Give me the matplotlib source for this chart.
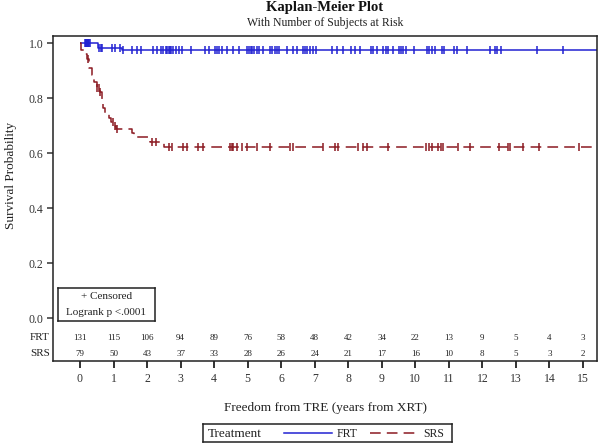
import numpy as np
import matplotlib
matplotlib.use("Agg")
import matplotlib.pyplot as plt
from matplotlib.lines import Line2D

plt.rcParams['font.family'] = ['Liberation Serif', 'DejaVu Serif']

# ---------------- data ----------------
frt_step_t = [0.0, 0.55, 1.24]
frt_step_s = [1.0, 0.984, 0.976]
frt_censor = [0.15, 0.17, 0.19, 0.21, 0.23, 0.25, 0.27, 0.29, 0.58, 0.62, 0.66,
              0.94, 1.04, 1.19, 1.29, 1.54, 1.69, 1.81, 2.19, 2.31, 2.43, 2.49,
              2.57, 2.61, 2.65, 2.69, 2.72, 2.76, 2.86, 2.95, 3.05, 3.30, 3.73,
              3.85, 4.03, 4.10, 4.16, 4.23, 4.37, 4.57, 4.75, 4.99, 5.04, 5.09,
              5.14, 5.19, 5.27, 5.35, 5.47, 5.67, 5.74, 5.81, 5.88, 5.95, 6.16,
              6.34, 6.48, 6.64, 6.71, 6.78, 6.86, 6.94, 7.04, 7.51, 7.67, 7.85,
              8.07, 8.20, 8.35, 8.67, 8.75, 8.85, 9.05, 9.13, 9.20, 9.34, 9.51,
              9.57, 9.62, 9.72, 9.96, 10.34, 10.42, 10.49, 10.59, 10.79, 10.86,
              11.15, 11.23, 11.53, 12.23, 12.38, 12.45, 12.55, 13.62, 14.41]

srs_step_t = [0.0, 0.04, 0.12, 0.2, 0.28, 0.36, 0.43, 0.5, 0.6, 0.65, 0.7,
              0.76, 0.86, 0.92, 1.0, 1.06, 1.55, 1.62, 2.08, 2.5]
srs_step_s = [1.0, 0.975, 0.96, 0.942, 0.91, 0.885, 0.86, 0.836, 0.822, 0.79,
              0.765, 0.745, 0.73, 0.715, 0.70, 0.687, 0.673, 0.658, 0.642, 0.624]
srs_censor = [0.24, 0.52, 0.56, 0.6, 0.98, 1.03, 1.09, 2.14, 2.27, 2.66, 2.73,
              3.08, 3.18, 3.53, 3.66, 4.47, 4.52, 4.57, 4.69, 4.82, 4.97, 5.29,
              5.67, 6.26, 6.36, 7.24, 7.60, 7.70, 8.30, 8.43, 8.55, 9.20, 10.32,
              10.40, 10.49, 10.69, 10.76, 10.82, 11.28, 11.63, 12.50, 12.77,
              12.84, 13.20, 13.70, 14.89]

t_end = 15.6
risk_times = list(range(16))
frt_risk = [131, 115, 106, 94, 89, 76, 58, 48, 42, 34, 22, 13, 9, 5, 4, 3]
srs_risk = [79, 50, 43, 37, 33, 28, 26, 24, 21, 17, 16, 10, 8, 5, 3, 2]

FRT_C = '#2222d2'
SRS_C = '#8b1a22'

YMIN, YMAX = -0.1553, 1.0265


def surv_at(times, st, ss):
    idx = np.searchsorted(np.asarray(st), np.asarray(times), side='right') - 1
    return np.asarray(ss)[idx]


fig = plt.figure(figsize=(6.0, 4.43), dpi=100)
ax = fig.add_axes([53 / 600, 1 - 361 / 443, (597 - 53) / 600, (361 - 36) / 443])

# curves
ax.step(frt_step_t + [t_end], frt_step_s + [frt_step_s[-1]], where='post',
        color=FRT_C, lw=1.1, solid_capstyle='butt')
ax.step(srs_step_t + [t_end], srs_step_s + [srs_step_s[-1]], where='post',
        color=SRS_C, lw=1.1, linestyle=(0, (7, 4)))

ax.plot(frt_censor, surv_at(frt_censor, frt_step_t, frt_step_s), ls='none',
        marker='|', ms=6, mew=1.1, color=FRT_C)
ax.plot(srs_censor, surv_at(srs_censor, srs_step_t, srs_step_s), ls='none',
        marker='|', ms=6, mew=1.1, color=SRS_C)

ax.set_xlim(-0.805, 15.42)
ax.set_ylim(YMIN, YMAX)
ax.set_yticks([0.0, 0.2, 0.4, 0.6, 0.8, 1.0])
ax.set_yticklabels(['0.0', '0.2', '0.4', '0.6', '0.8', '1.0'])
ax.set_xticks(risk_times)
ax.tick_params(axis='y', direction='out', length=4, width=1.1, labelsize=8.5,
               pad=3, colors='#333333', labelcolor='#333333')
ax.tick_params(axis='x', direction='out', length=5, width=1.3, labelsize=8.5,
               pad=4, colors='#222222', labelcolor='#333333')
for sp in ax.spines.values():
    sp.set_linewidth(1.1)
    sp.set_color('#222222')

ax.set_ylabel('Survival Probability', fontsize=9.5, color='#222222')
ax.yaxis.set_label_coords(-0.066, 0.57)
ax.set_xlabel('Freedom from TRE (years from XRT)', fontsize=9.5, labelpad=12,
              color='#222222')

# at-risk table
for t, a, b in zip(risk_times, frt_risk, srs_risk):
    ax.text(t, -0.071, str(a), ha='center', va='center', fontsize=6.5, color='#222222')
    ax.text(t, -0.129, str(b), ha='center', va='center', fontsize=6.5, color='#222222')
for lab, yv in (('FRT', -0.071), ('SRS', -0.129)):
    ax.text(-0.006, (yv - YMIN) / (YMAX - YMIN), lab, transform=ax.transAxes,
            ha='right', va='center', fontsize=8, color='#222222')

# inset box
ins = fig.add_axes([58 / 600, 1 - 321 / 443, (155 - 58) / 600, (321 - 288) / 443])
ins.set_xticks([]); ins.set_yticks([])
for sp in ins.spines.values():
    sp.set_linewidth(1.1)
    sp.set_color('#222222')
ins.patch.set_alpha(0)
ins.text(0.5, 0.73, '+ Censored', ha='center', va='center', fontsize=8, color='#222222')
ins.text(0.5, 0.25, 'Logrank p <.0001', ha='center', va='center', fontsize=8, color='#222222')

# titles
fig.text(325 / 600, 1 - 8 / 443, 'Kaplan-Meier Plot', ha='center', va='center',
         fontsize=10.5, fontweight='bold', color='#111111')
fig.text(325 / 600, 1 - 23 / 443, 'With Number of Subjects at Risk', ha='center',
         va='center', fontsize=8.5, color='#222222')

# legend box
lg = fig.add_axes([203 / 600, 1 - 442 / 443, (452 - 203) / 600, (442 - 424) / 443])
lg.set_xlim(203, 452); lg.set_ylim(0, 1)
lg.set_xticks([]); lg.set_yticks([])
for sp in lg.spines.values():
    sp.set_linewidth(1.1)
    sp.set_color('#222222')
lg.text(208, 0.45, 'Treatment', ha='left', va='center', fontsize=9.5, color='#222222')
lg.add_line(Line2D([284, 332], [0.5, 0.5], color=FRT_C, lw=1.1))
lg.text(337, 0.45, 'FRT', ha='left', va='center', fontsize=8.5, color='#222222')
lg.add_line(Line2D([370, 415], [0.5, 0.5], color=SRS_C, lw=1.1, linestyle=(0, (7, 4))))
lg.text(423, 0.45, 'SRS', ha='left', va='center', fontsize=8.5, color='#222222')

fig.savefig('out.png', dpi=100)
